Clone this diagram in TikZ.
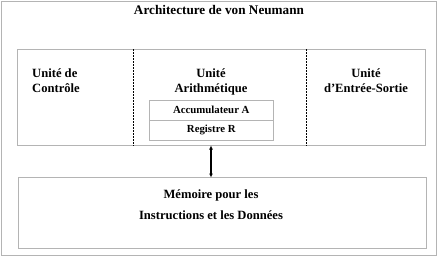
\documentclass[tikz,border=0pt]{standalone}
\usepackage{fontspec}
\setmainfont{Liberation Serif}
\usetikzlibrary{arrows.meta}
\definecolor{framegray}{HTML}{B4B4B4}
\begin{document}
\begin{tikzpicture}[x=1pt,y=-1pt,
  frame/.style={draw=framegray,line width=0.9pt},
  sep/.style={draw=black,line width=0.8pt,dash pattern=on 1.5pt off 1.5pt},
  lbl/.style={font=\fontsize{12.6}{14.5}\selectfont\bfseries,inner sep=0pt,align=center},
  small/.style={font=\fontsize{10.8}{12}\selectfont\bfseries,inner sep=0pt}]
\useasboundingbox (0,0) rectangle (437,257);
\draw[frame] (1.5,1.5) rectangle (436,255.5);
\node[font=\fontsize{13.2}{15}\selectfont\bfseries,inner sep=0pt,anchor=base] (title) at (219,14) {Architecture de von Neumann};
\draw[frame] (17,49) rectangle (425.5,145.5);
\coordinate (topbox-s) at (211,145.5);
\draw[sep] (133,49) -- (133,145.5);
\draw[sep] (306,49) -- (306,145.5);
\node[lbl,align=left,anchor=base west] (ctrl) at (32,92) {Unité de\\Contrôle};
\node[lbl,anchor=base] (arith) at (211,92) {Unité\\Arithmétique};
\node[lbl,anchor=base] (io) at (366,92) {Unité\\d’Entrée-Sortie};
\node[frame,minimum width=124pt,minimum height=20pt,inner sep=0pt,small] (acc) at (211.3,110) {Accumulateur A};
\node[frame,minimum width=124pt,minimum height=20pt,inner sep=0pt,small] (reg) at (211.3,130) {Registre R};
\draw[frame] (18,177.5) rectangle (426.5,248);
\coordinate (mem-n) at (211,177.5);
\node[lbl,anchor=base] (mem1) at (211,198) {Mémoire pour les};
\node[lbl,anchor=base] (mem2) at (211,219) {Instructions et les Données};
\draw[line width=1.4pt,{Latex[length=4pt,width=4pt]}-{Latex[length=4pt,width=4pt]}] (topbox-s) -- (mem-n);
\end{tikzpicture}
\end{document}
